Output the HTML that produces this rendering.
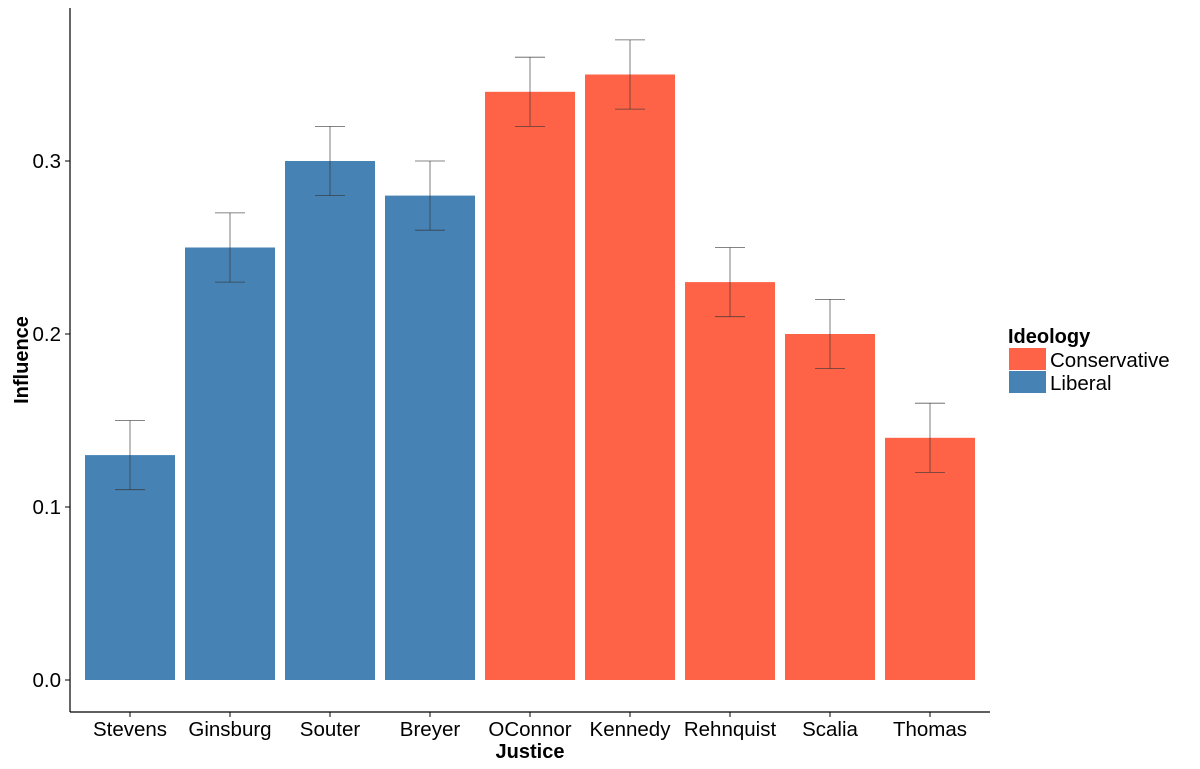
<!DOCTYPE html>
<html><head><meta charset="utf-8"><style>
body{margin:0;background:#fff;}
svg{display:block;font-family:"Liberation Sans",Arial,sans-serif;}
</style></head><body>
<svg id="chart" width="1200" height="769" viewBox="0 0 1200 769" xmlns="http://www.w3.org/2000/svg">
<g id="bars"></g>
<g id="errs"></g>
<line x1="70" y1="8" x2="70" y2="712" stroke="#000" stroke-width="1.2"/>
<line x1="70" y1="712" x2="990" y2="712" stroke="#000" stroke-width="1.2"/>
<g id="yticks"></g>
<g id="xticks"></g>
<text x="530" y="758" text-anchor="middle" font-size="20" font-weight="bold">Justice</text>
<text transform="translate(28,360) rotate(-90)" text-anchor="middle" font-size="20" font-weight="bold">Influence</text>
<g>
<text x="1008" y="343" font-size="20" font-weight="bold">Ideology</text>
<rect x="1009" y="348" width="37" height="22" fill="#FF6347"/>
<text x="1050" y="367" font-size="20.5">Conservative</text>
<rect x="1009" y="371" width="37" height="22" fill="#4682B4"/>
<text x="1050" y="390" font-size="20.5">Liberal</text>
</g>
</svg>
<script>
const justices = ["Stevens","Ginsburg","Souter","Breyer","OConnor","Kennedy","Rehnquist","Scalia","Thomas"];
const influence = [0.13,0.25,0.30,0.28,0.34,0.35,0.23,0.20,0.14];
const errLow = [0.11,0.23,0.28,0.26,0.32,0.33,0.21,0.18,0.12];
const errHigh = [0.15,0.27,0.32,0.30,0.36,0.37,0.25,0.22,0.16];
const ideology = ["Liberal","Liberal","Liberal","Liberal","Conservative","Conservative","Conservative","Conservative","Conservative"];
const yTicks = [0.0,0.1,0.2,0.3];
const yTickLabels = ["0.0","0.1","0.2","0.3"];

const NS="http://www.w3.org/2000/svg";
const y = v => 680 - v*1730;
const x = i => 130 + i*100;
const colors = {Liberal:"#4682B4",Conservative:"#FF6347"};
function mk(tag, parent, attrs){const e=document.createElementNS(NS,tag);for(const k in attrs)e.setAttribute(k,attrs[k]);parent.appendChild(e);return e;}
const gb=document.getElementById('bars'), ge=document.getElementById('errs'), gy=document.getElementById('yticks'), gx=document.getElementById('xticks');
justices.forEach((j,i)=>{
  const r=mk('rect',gb,{x:x(i)-45,y:y(influence[i]),width:90,height:y(0)-y(influence[i]),fill:colors[ideology[i]]});
  
  
  const eg=mk('g',ge,{stroke:'#333','stroke-width':0.8,'stroke-opacity':0.8});
  
  
  mk('line',eg,{x1:x(i),x2:x(i),y1:y(errLow[i]),y2:y(errHigh[i])});
  mk('line',eg,{x1:x(i)-15,x2:x(i)+15,y1:y(errLow[i]),y2:y(errLow[i])});
  mk('line',eg,{x1:x(i)-15,x2:x(i)+15,y1:y(errHigh[i]),y2:y(errHigh[i])});
  mk('line',gx,{x1:x(i),x2:x(i),y1:712,y2:717,stroke:'#000'});
  const t=mk('text',gx,{x:x(i),y:736,'text-anchor':'middle','font-size':20.5});
  t.textContent=j;
  
  
});
yTicks.forEach((v,i)=>{
  mk('line',gy,{x1:65,x2:70,y1:y(v),y2:y(v),stroke:'#000'});
  const t=mk('text',gy,{x:61,y:y(v)+7,'text-anchor':'end','font-size':20.5});
  t.textContent=yTickLabels[i];
  
  
});
</script>
</body></html>
